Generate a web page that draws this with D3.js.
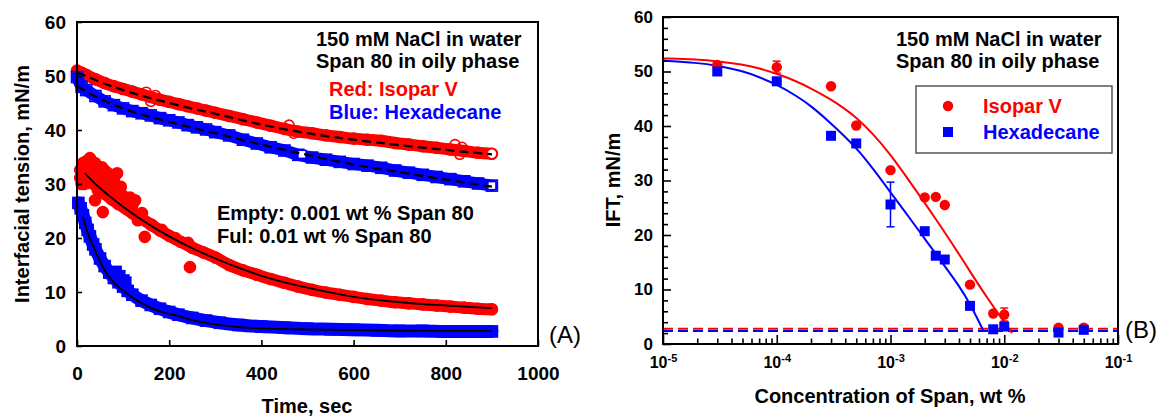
<!DOCTYPE html>
<html><head><meta charset="utf-8">
<script src="https://cdn.jsdelivr.net/npm/d3@7"></script>
<style>body{margin:0;background:#fff}svg{display:block}</style>
</head><body><svg id="c" width="1162" height="416"></svg>
<script>
// ---------- Panel A data (time, sec ; IFT, mN/m) ----------
const tHigh = [0,10,20,40,60,80,100,120,140,160,180,200,220,240,260,280,300,330,360,390,420,450,480,510,540,570,600,630,660,690,720,750,780,810,840,870,900];
const iftIsoHigh = [51.0,50.6,50.2,49.4,48.7,48.1,47.6,47.1,46.6,46.1,45.6,45.2,44.8,44.4,44.0,43.6,43.2,42.6,42.0,41.4,40.8,40.2,39.7,39.4,39.0,38.7,38.4,38.2,38.0,37.6,37.3,37.0,36.7,36.4,36.1,35.8,35.6];
const iftHexHigh = [49.8,48.0,47.4,46.3,45.3,44.6,44.0,43.5,43.1,42.7,42.2,41.8,41.4,40.9,40.5,40.1,39.6,39.0,38.2,37.5,36.8,36.2,35.4,34.9,34.5,34.1,33.7,33.4,33.0,32.5,32.1,31.7,31.3,30.9,30.5,30.1,29.7];
const tIsoHighExtra = [150,160,170,460,470,820,830,835];
const iftIsoHighExtra = [47.0,45.3,46.4,40.9,39.4,37.3,35.5,36.8];
const tHexHighExtra = [488];
const iftHexHighExtra = [35.5];
const tFitHigh = [0,50,100,200,300,400,500,600,700,800,900];
const fitIsoHigh = [50.7,48.9,47.4,45.0,43.0,41.0,39.4,38.2,37.2,36.3,35.5];
const fitHexHigh = [48.1,45.8,44.0,41.5,39.4,37.3,35.4,33.6,32.2,30.8,29.5];

const tIsoLow = [15,30,45,60,75,90,105,120,140,160,180,200,225,250,275,300,330,360,390,420,450,480,510,540,570,600,630,660,690,720,750,780,810,840,870,900];
const iftIsoLow = [31.5,30.5,29.3,28.2,27.2,26.3,25.5,24.6,23.6,22.5,21.4,20.4,19.3,18.2,17.3,16.4,15.0,14.0,13.2,12.4,11.7,11.0,10.4,9.9,9.5,9.1,8.7,8.4,8.1,7.9,7.7,7.5,7.3,7.1,6.9,6.8];
const tIsoNoise = [7,7,13,20,28,34,39,45,54,60,67,76,87,24,39,56,45,89,104,126,111,141,132,163,147,245,184,213,241,15,25,50,65,80,95,115,120,10,18,35,42,58,70,85,100];
const iftIsoNoise = [32.6,31.1,33.9,34.2,34.8,34.0,33.9,33.0,33.1,32.5,32.0,29.4,32.0,30.2,27.0,24.8,28.9,28.9,27.0,27.0,25.2,24.6,23.3,22.4,20.2,14.6,21.5,20.0,19.1,30.0,32.5,31.0,30.0,30.8,29.5,27.5,26.0,30.0,31.5,31.5,31.0,30.5,29.5,29.0,27.8];
const tFitIsoLow = [17,40,70,100,140,200,250,300,350,400,450,500,600,700,800,900];
const fitIsoLow = [32.0,30.0,27.8,25.8,23.4,20.3,18.1,16.2,14.5,13.0,11.8,10.8,9.1,8.1,7.5,7.0];

const tHexLow = [3,8,13,18,23,28,35,40,50,60,70,80,90,100,110,120,140,160,180,200,220,250,280,310,350,400,450,500,550,600,650,700,750,800,850,900];
const iftHexLow = [26.5,25.5,24.2,22.8,21.5,20.3,18.8,17.9,16.2,14.8,13.6,12.6,11.8,11.0,10.2,9.5,8.4,7.6,6.9,6.3,5.8,5.2,4.7,4.3,3.9,3.6,3.4,3.2,3.1,3.0,2.9,2.8,2.8,2.7,2.7,2.7];
const tHexNoise = [80,87,95,104,108];
const iftHexNoise = [13.6,14.0,13.2,12.4,12.0];
const tFitHexLow = [13,25,39,50,67,85,104,120,141,170,213,250,284,330,386,484,600,700,800,900];
const fitHexLow = [23.9,20.5,17.8,15.6,13.1,11.3,10.0,9.0,7.9,6.7,5.7,4.8,4.2,3.7,3.3,3.1,2.95,2.85,2.8,2.8];

const xTicksA = [0,200,400,600,800,1000];
const yTicks = [0,10,20,30,40,50,60];

// ---------- Panel B data (conc wt % ; IFT) ----------
const concPts = [3e-5,1e-4,3e-4,5e-4,1e-3,2e-3,2.5e-3,3e-3,5e-3,8e-3,1e-2,3e-2,5e-2];
const iftIsopar = [51.2,50.8,47.3,40.1,31.9,26.9,27.0,25.5,10.9,5.6,5.4,3.0,3.0];
const errIsopar = [0,1.1,0,0,0,0,0,0,0,0,1.2,0,0];
const iftHexadecane = [50.0,48.2,38.2,36.8,25.6,20.7,16.2,15.5,7.0,2.7,3.2,2.1,2.6];
const errHexadecane = [0,0,0,0,4.1,0,0,0,0,0,0,0,0];
const curveConcIso = [1e-5,2e-5,3e-5,5e-5,7e-5,1e-4,1.5e-4,2e-4,3e-4,4e-4,5e-4,7e-4,1e-3,1.5e-3,2e-3,3e-3,4e-3,5e-3,7e-3,1e-2,1.17e-2];
const curveIso = [52.4,52.2,51.9,51.3,50.6,49.6,48.2,46.9,44.9,43.1,41.6,38.6,34.8,29.6,25.9,20.5,16.5,13.3,8.6,4.0,2.0];
const curveConcHex = [1e-5,2e-5,3e-5,5e-5,7e-5,1e-4,1.5e-4,2e-4,3e-4,4e-4,5e-4,6e-4,8e-4,1e-3,1.5e-3,2e-3,3e-3,4e-3,5e-3,6.5e-3];
const curveHex = [52.0,51.6,51.1,50.1,49.0,47.6,45.5,43.7,40.5,38.0,35.9,34.0,30.6,27.8,22.9,19.3,14.3,10.7,7.4,2.6];
const plateauIso = 2.8, plateauHex = 2.4;
const xDecades = [1e-5,1e-4,1e-3,1e-2,1e-1];
const xExps = ["-5","-4","-3","-2","-1"];

// ---------- drawing ----------
const FONT = '"Liberation Sans", Arial, Helvetica, sans-serif';
const RED = "#ff0000", BLUE = "#0000ff";
const svg = d3.select("#c").attr("font-family", FONT);

const xL = d3.scaleLinear().domain([0,1000]).range([77,538]);
const yL = d3.scaleLinear().domain([0,60]).range([346,22]);
const xR = d3.scaleLog().domain([1e-5,1e-1]).range([663,1118]);
const yR = d3.scaleLinear().domain([0,60]).range([344,17]);

const lineL = d3.line().x(d=>xL(d[0])).y(d=>yL(d[1])).curve(d3.curveMonotoneX);
const lineR = d3.line().x(d=>xR(d[0])).y(d=>yR(d[1])).curve(d3.curveBasis);
const lineFlat = d3.line().x(d=>xR(d[0])).y(d=>yR(d[1]));

const gA = svg.append("g");
function band(t, v, color, w){
  gA.append("path").datum(d3.zip(t,v)).attr("d", lineL)
    .attr("fill","none").attr("stroke",color).attr("stroke-width",w)
    .attr("stroke-linecap","round").attr("stroke-linejoin","round");
}
function circles(t, v, color, filled, r){
  gA.append("g").selectAll("circle").data(d3.zip(t,v)).join("circle")
    .attr("cx", d=>xL(d[0])).attr("cy", d=>yL(d[1])).attr("r", r)
    .attr("fill", filled?color:"none").attr("stroke", color).attr("stroke-width",1.6);
}
function squares(t, v, color, filled, s){
  gA.append("g").selectAll("rect").data(d3.zip(t,v)).join("rect")
    .attr("x", d=>xL(d[0])-s/2).attr("y", d=>yL(d[1])-s/2).attr("width", s).attr("height", s)
    .attr("fill", filled?color:"none").attr("stroke", color).attr("stroke-width",1.6);
}
// upper series (open markers)
band(tHigh, iftIsoHigh, RED, 12);
circles(tHigh, iftIsoHigh, RED, false, 5.5);
circles(tIsoHighExtra, iftIsoHighExtra, RED, false, 5);
band(tHigh, iftHexHigh, BLUE, 12);
squares(tHigh, iftHexHigh, BLUE, false, 11);
gA.append("g").selectAll("rect").data(d3.zip(tHexHighExtra, iftHexHighExtra)).join("rect")
  .attr("x", d=>xL(d[0])-4).attr("y", d=>yL(d[1])-4).attr("width",8).attr("height",8)
  .attr("fill","#fff").attr("stroke",BLUE).attr("stroke-width",1.5);
gA.append("g").selectAll("rect").data([[tHigh[tHigh.length-1], iftHexHigh[iftHexHigh.length-1]]]).join("rect")
  .attr("x", d=>xL(d[0])-4).attr("y", d=>yL(d[1])-4).attr("width",8).attr("height",8)
  .attr("fill","#fff").attr("stroke",BLUE).attr("stroke-width",1.5);
gA.append("g").selectAll("circle").data([[tHigh[tHigh.length-1], iftIsoHigh[iftIsoHigh.length-1]]]).join("circle")
  .attr("cx", d=>xL(d[0])).attr("cy", d=>yL(d[1])).attr("r",5)
  .attr("fill","#fff").attr("stroke",RED).attr("stroke-width",1.5);
// lower series (filled markers)
band(tIsoLow, iftIsoLow, RED, 12);
circles(tIsoLow, iftIsoLow, RED, true, 5.5);
circles(tIsoNoise, iftIsoNoise, RED, true, 5.5);
band(tHexLow, iftHexLow, BLUE, 13);
squares(tHexLow, iftHexLow, BLUE, true, 11);
squares(tHexNoise, iftHexNoise, BLUE, true, 8);
// fits
gA.append("path").datum(d3.zip(tFitHigh, fitIsoHigh)).attr("d", lineL).attr("fill","none")
  .attr("stroke","#000").attr("stroke-width",2.3).attr("stroke-dasharray","9,5");
gA.append("path").datum(d3.zip(tFitHigh, fitHexHigh)).attr("d", lineL).attr("fill","none")
  .attr("stroke","#000").attr("stroke-width",2.3).attr("stroke-dasharray","9,5");
gA.append("path").datum(d3.zip(tFitIsoLow, fitIsoLow)).attr("d", lineL).attr("fill","none")
  .attr("stroke","#000").attr("stroke-width",1.8);
gA.append("path").datum(d3.zip(tFitHexLow, fitHexLow)).attr("d", lineL).attr("fill","none")
  .attr("stroke","#000").attr("stroke-width",1.8);

function styleAxis(g, size){
  g.attr("font-family", FONT).attr("font-size", size).attr("font-weight","bold");
  g.select(".domain").remove();
  g.selectAll(".tick line").attr("stroke","#000").attr("stroke-width",1.6);
  g.selectAll(".tick text").attr("fill","#000");
}
svg.append("g").attr("transform","translate(0,346)")
  .call(d3.axisBottom(xL).tickValues(xTicksA).tickSize(-6).tickPadding(21).tickFormat(d3.format("d")))
  .call(g=>styleAxis(g,19));
svg.append("g").attr("transform","translate(77,0)")
  .call(d3.axisLeft(yL).tickValues(yTicks).tickSize(-5).tickPadding(11))
  .call(g=>styleAxis(g,19));
svg.append("rect").attr("x",xL(0)).attr("y",yL(60)).attr("width",xL(1000)-xL(0)).attr("height",yL(0)-yL(60))
  .attr("fill","none").attr("stroke","#000").attr("stroke-width",2);

// annotations A
function txt(x,y,s,opt={}){
  return svg.append("text").attr("x",x).attr("y",y).text(s)
    .attr("font-size",opt.size||20).attr("font-weight",opt.weight||"bold")
    .attr("fill",opt.color||"#000").attr("text-anchor",opt.anchor||"start");
}
txt(316,46,"150 mM NaCl in water");
txt(316,68,"Span 80 in oily phase");
txt(329,96,"Red: Isopar V",{color:RED});
txt(329,119,"Blue: Hexadecane",{color:BLUE});
txt(217,220,"Empty: 0.001 wt % Span 80");
txt(217,243,"Ful: 0.01 wt % Span 80");
txt(307,413,"Time, sec",{anchor:"middle"});
svg.append("text").attr("transform","translate(29,184) rotate(-90)").attr("text-anchor","middle")
  .attr("font-size",20).attr("font-weight","bold").text("Interfacial tension, mN/m");
txt(549,343,"(A)",{size:24,weight:"normal"});

// ---------- Panel B ----------
const gB = svg.append("g");
gB.append("path").datum([[1e-5,plateauIso],[1e-1,plateauIso]]).attr("d",lineFlat).attr("fill","none")
  .attr("stroke",RED).attr("stroke-width",2).attr("stroke-dasharray","10,5");
gB.append("path").datum([[1e-5,plateauHex],[1e-1,plateauHex]]).attr("d",lineFlat).attr("fill","none")
  .attr("stroke",BLUE).attr("stroke-width",2).attr("stroke-dasharray","10,5");
gB.append("path").datum(d3.zip(curveConcIso,curveIso)).attr("d",lineR).attr("fill","none")
  .attr("stroke",RED).attr("stroke-width",2);
gB.append("path").datum(d3.zip(curveConcHex,curveHex)).attr("d",lineR).attr("fill","none")
  .attr("stroke",BLUE).attr("stroke-width",2);
function errBars(conc, v, e, color){
  const d = d3.zip(conc, v, e).filter(r=>r[2]>0);
  const g = gB.append("g").attr("stroke",color).attr("stroke-width",1.5);
  g.selectAll("line.v").data(d).join("line").attr("class","v")
    .attr("x1",r=>xR(r[0])).attr("x2",r=>xR(r[0])).attr("y1",r=>yR(r[1]-r[2])).attr("y2",r=>yR(r[1]+r[2]));
  g.selectAll("line.t").data(d).join("line").attr("class","t")
    .attr("x1",r=>xR(r[0])-4).attr("x2",r=>xR(r[0])+4).attr("y1",r=>yR(r[1]+r[2])).attr("y2",r=>yR(r[1]+r[2]));
  g.selectAll("line.b").data(d).join("line").attr("class","b")
    .attr("x1",r=>xR(r[0])-4).attr("x2",r=>xR(r[0])+4).attr("y1",r=>yR(r[1]-r[2])).attr("y2",r=>yR(r[1]-r[2]));
}
errBars(concPts, iftIsopar, errIsopar, RED);
errBars(concPts, iftHexadecane, errHexadecane, BLUE);
gB.append("g").selectAll("circle").data(d3.zip(concPts,iftIsopar)).join("circle")
  .attr("cx",d=>xR(d[0])).attr("cy",d=>yR(d[1])).attr("r",5.2).attr("fill",RED);
gB.append("g").selectAll("rect").data(d3.zip(concPts,iftHexadecane)).join("rect")
  .attr("x",d=>xR(d[0])-5).attr("y",d=>yR(d[1])-5).attr("width",10).attr("height",10).attr("fill",BLUE);

// axes B
const minorY = d3.range(2,60,2).filter(v=>v%10!==0);
svg.append("g").attr("transform","translate(663,0)")
  .call(d3.axisLeft(yR).tickValues(yTicks).tickSize(-8).tickPadding(10))
  .call(g=>styleAxis(g,17));
svg.append("g").attr("transform","translate(663,0)")
  .call(d3.axisLeft(yR).tickValues(minorY).tickSize(-5).tickFormat(""))
  .call(g=>styleAxis(g,17));
const minorX = [];
xDecades.slice(0,4).forEach(d=>{ for(let m=2;m<=9;m++) minorX.push(m*d); });
svg.append("g").attr("transform","translate(0,344)")
  .call(d3.axisBottom(xR).tickValues(minorX).tickSize(-5.5).tickFormat(""))
  .call(g=>styleAxis(g,16));
const gxB = svg.append("g").attr("transform","translate(0,344)")
  .call(d3.axisBottom(xR).tickValues(xDecades).tickSize(-9).tickFormat(""))
  .call(g=>styleAxis(g,16));
gxB.selectAll(".tick text").each(function(d,i){
  const t = d3.select(this).attr("y",24).attr("dy",null).attr("text-anchor","middle");
  t.append("tspan").attr("font-size",16).text("10");
  t.append("tspan").attr("font-size",11).attr("dy",-6).text(xExps[i]);
});
svg.append("rect").attr("x",663).attr("y",yR(60)).attr("width",xR(1e-1)-663).attr("height",yR(0)-yR(60))
  .attr("fill","none").attr("stroke","#000").attr("stroke-width",2);

txt(896,46,"150 mM NaCl in water");
txt(896,68,"Span 80 in oily phase");
// legend
svg.append("rect").attr("x",916).attr("y",86).attr("width",196).attr("height",67)
  .attr("fill","#fff").attr("stroke","#555").attr("stroke-width",1.5);
svg.append("circle").attr("cx",948).attr("cy",106).attr("r",5.2).attr("fill",RED);
svg.append("rect").attr("x",943).attr("y",127).attr("width",10).attr("height",10).attr("fill",BLUE);
txt(983,113,"Isopar V",{color:RED});
txt(983,139,"Hexadecane",{color:BLUE});
txt(890,403,"Concentration of Span, wt %",{anchor:"middle"});
svg.append("text").attr("transform","translate(620,180) rotate(-90)").attr("text-anchor","middle")
  .attr("font-size",20).attr("font-weight","bold").text("IFT, mN/m");
txt(1125,338,"(B)",{size:24,weight:"normal"});
</script></body></html>
